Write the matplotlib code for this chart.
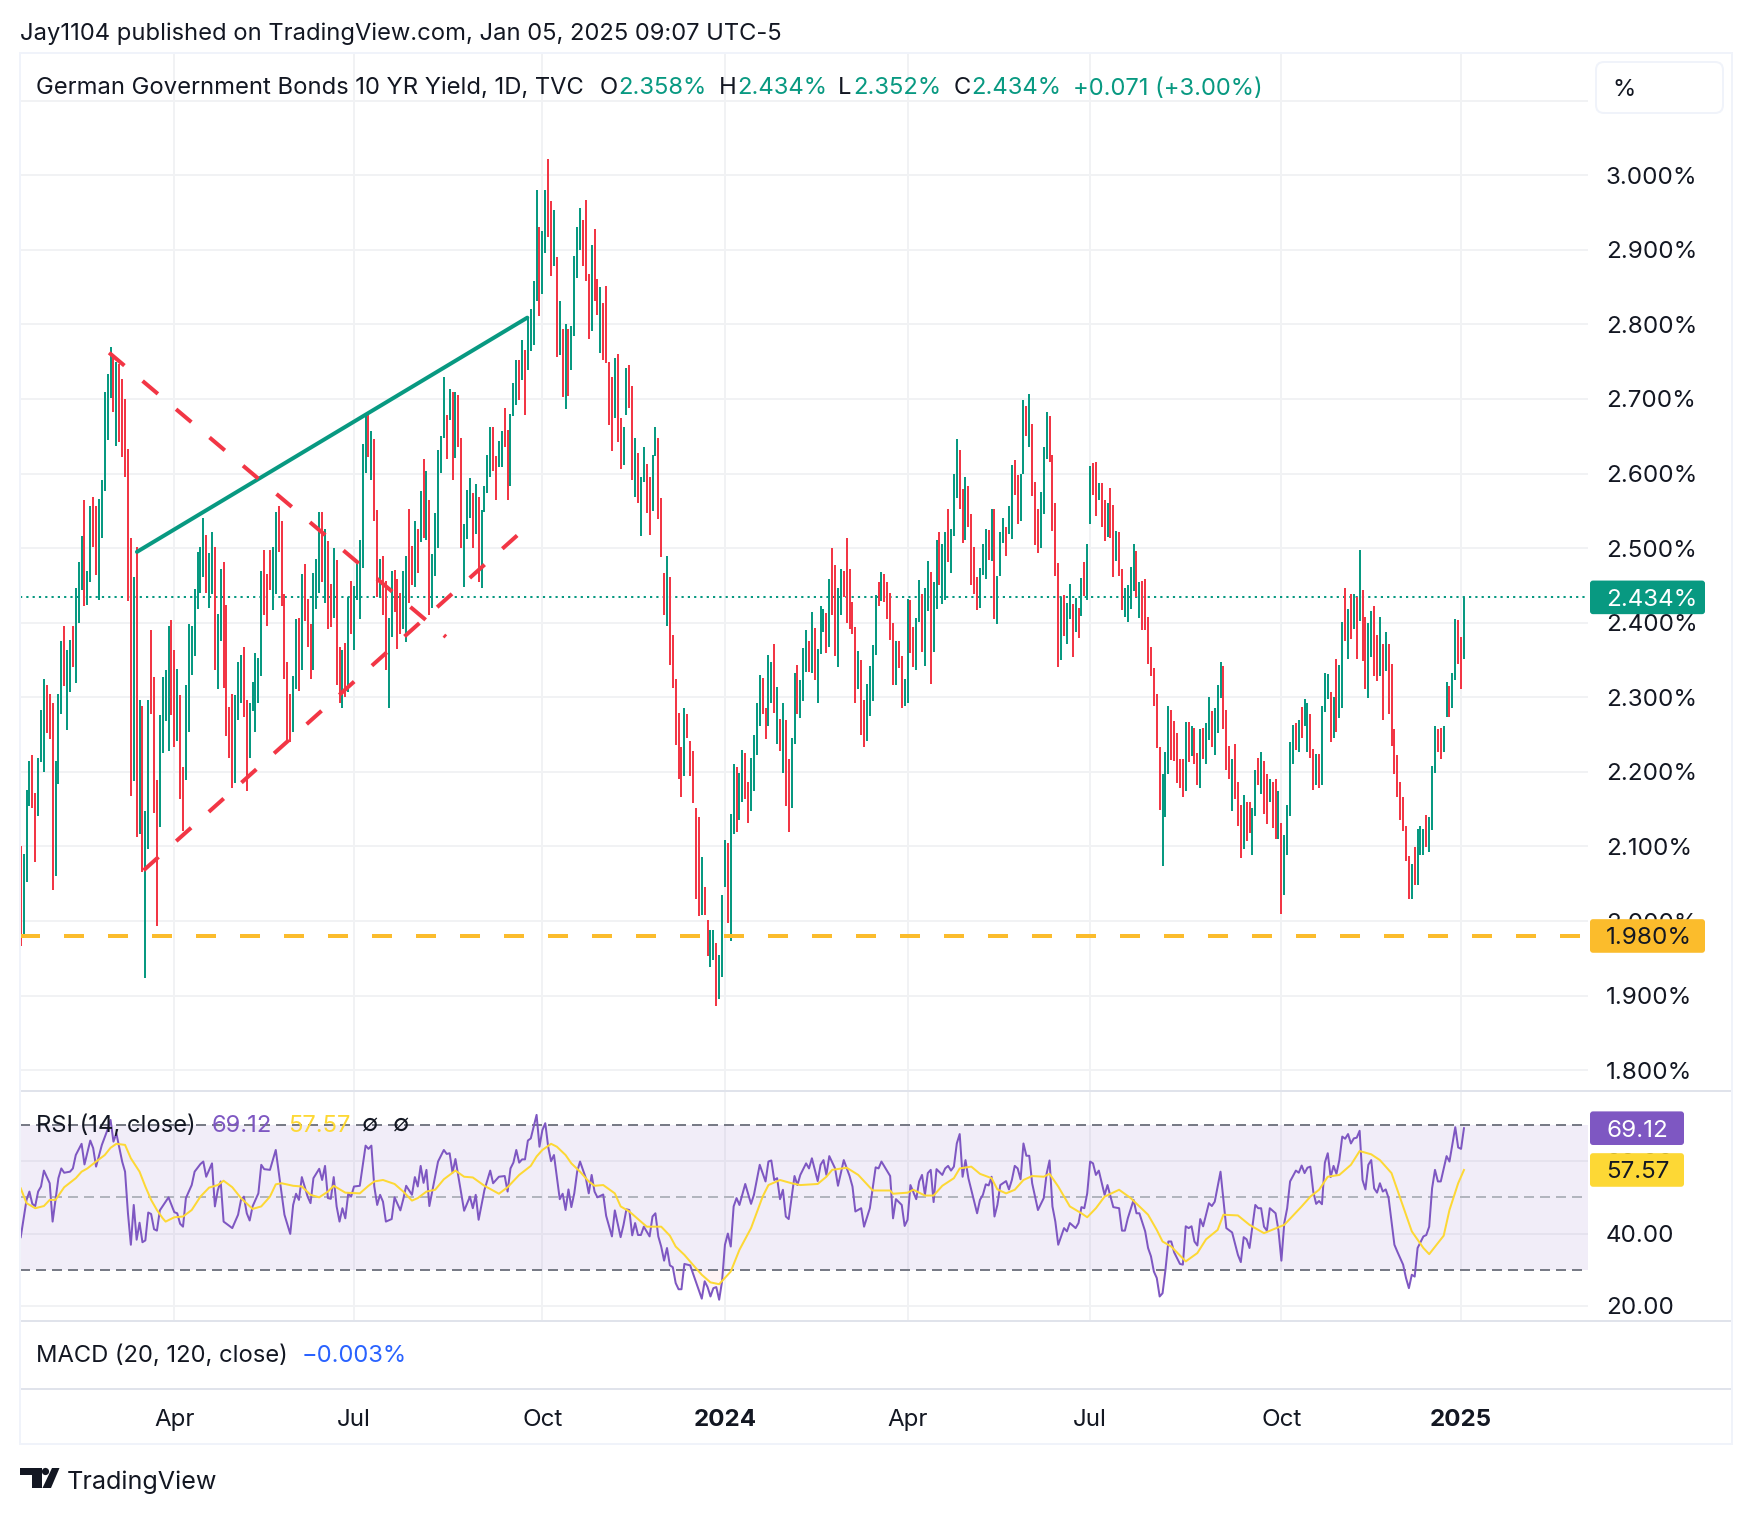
#!/usr/bin/env python

#-- importing libraries
import numpy as np
import matplotlib
matplotlib.use('Agg')
import matplotlib.pyplot as plt
from matplotlib.patches import FancyBboxPatch, Polygon, Circle

#-- daily range of the yield, one row per ten bars
bar_high = [
    2.101,2.090,2.176,2.215,2.222,2.172,2.218,2.283,2.324,2.316,
    2.304,2.292,2.215,2.305,2.375,2.395,2.363,2.377,2.395,2.446,
    2.482,2.516,2.564,2.470,2.557,2.569,2.556,2.566,2.591,2.709,
    2.734,2.769,2.759,2.750,2.747,2.727,2.700,2.633,2.514,2.461,
    2.502,2.296,2.289,2.147,2.296,2.390,2.327,2.189,2.276,2.327,
    2.336,2.395,2.403,2.364,2.338,2.303,2.207,2.316,2.398,2.395,
    2.445,2.495,2.502,2.541,2.517,2.494,2.521,2.501,2.412,2.472,
    2.481,2.424,2.287,2.305,2.303,2.348,2.357,2.368,2.296,2.292,
    2.320,2.359,2.353,2.470,2.498,2.465,2.497,2.501,2.548,2.556,
    2.536,2.438,2.347,2.305,2.328,2.405,2.406,2.465,2.479,2.432,
    2.398,2.466,2.486,2.548,2.548,2.526,2.509,2.452,2.500,2.484,
    2.367,2.364,2.373,2.434,2.456,2.449,2.479,2.511,2.640,2.678,
    2.678,2.657,2.646,2.551,2.485,2.489,2.456,2.406,2.469,2.471,
    2.459,2.440,2.469,2.490,2.553,2.503,2.536,2.526,2.576,2.619,
    2.604,2.564,2.492,2.547,2.631,2.650,2.729,2.679,2.713,2.709,
    2.710,2.705,2.647,2.533,2.578,2.594,2.574,2.586,2.569,2.551,
    2.583,2.625,2.663,2.663,2.623,2.643,2.657,2.688,2.658,2.680,
    2.721,2.752,2.752,2.779,2.765,2.810,2.820,2.858,2.980,2.930,
    2.925,2.980,3.022,2.965,2.953,2.891,2.832,2.794,2.800,2.794,
    2.798,2.892,2.930,2.956,2.940,2.967,2.868,2.907,2.928,2.861,
    2.850,2.828,2.852,2.750,2.730,2.755,2.760,2.675,2.663,2.741,
    2.746,2.717,2.647,2.627,2.596,2.635,2.613,2.596,2.625,2.662,
    2.648,2.567,2.467,2.489,2.461,2.383,2.324,2.279,2.234,2.285,
    2.277,2.242,2.228,2.151,2.140,2.086,2.045,2.002,1.988,1.988,
    1.971,1.955,2.035,2.109,2.104,2.143,2.210,2.207,2.198,2.230,
    2.225,2.187,2.218,2.249,2.293,2.330,2.326,2.285,2.357,2.348,
    2.371,2.314,2.271,2.293,2.269,2.217,2.246,2.332,2.343,2.323,
    2.366,2.390,2.375,2.414,2.393,2.365,2.422,2.418,2.413,2.459,
    2.500,2.477,2.447,2.472,2.469,2.513,2.472,2.428,2.394,2.362,
    2.350,2.296,2.318,2.342,2.370,2.437,2.455,2.468,2.465,2.455,
    2.440,2.400,2.375,2.375,2.355,2.324,2.432,2.430,2.394,2.406,
    2.457,2.439,2.447,2.483,2.468,2.455,2.511,2.522,2.506,2.522,
    2.553,2.526,2.599,2.646,2.631,2.579,2.595,2.583,2.546,2.502,
    2.461,2.473,2.506,2.526,2.524,2.552,2.552,2.463,2.521,2.541,
    2.529,2.556,2.611,2.618,2.598,2.600,2.698,2.690,2.706,2.666,
    2.588,2.553,2.575,2.635,2.682,2.677,2.625,2.560,2.480,2.434,
    2.437,2.426,2.452,2.425,2.433,2.420,2.460,2.482,2.506,2.610,
    2.614,2.616,2.587,2.587,2.565,2.561,2.580,2.558,2.523,2.521,
    2.472,2.447,2.451,2.475,2.506,2.496,2.455,2.456,2.458,2.407,
    2.368,2.339,2.304,2.234,2.197,2.226,2.289,2.283,2.268,2.252,
    2.217,2.217,2.267,2.267,2.262,2.259,2.225,2.257,2.259,2.265,
    2.300,2.281,2.285,2.316,2.348,2.342,2.283,2.235,2.217,2.238,
    2.186,2.156,2.169,2.160,2.160,2.151,2.202,2.218,2.226,2.215,
    2.197,2.191,2.186,2.190,2.175,2.131,2.115,2.156,2.240,2.263,
    2.265,2.270,2.287,2.298,2.293,2.278,2.231,2.224,2.224,2.289,
    2.333,2.331,2.307,2.301,2.351,2.343,2.401,2.446,2.419,2.438,
    2.439,2.434,2.497,2.444,2.407,2.399,2.416,2.423,2.383,2.407,
    2.372,2.388,2.371,2.344,2.257,2.222,2.187,2.166,2.128,2.087,
    2.077,2.099,2.124,2.128,2.124,2.142,2.139,2.208,2.262,2.258,
    2.259,2.261,2.321,2.315,2.332,2.405,2.403,2.381,2.434]

bar_low = [
    1.967,1.980,2.053,2.154,2.151,2.079,2.141,2.213,2.200,2.252,
    2.244,2.042,2.061,2.184,2.278,2.315,2.256,2.307,2.341,2.319,
    2.400,2.444,2.422,2.424,2.455,2.502,2.464,2.430,2.513,2.577,
    2.645,2.701,2.683,2.637,2.642,2.622,2.595,2.429,2.168,2.188,
    2.113,2.117,2.066,1.923,2.096,2.277,2.145,1.994,2.126,2.225,
    2.268,2.228,2.276,2.234,2.241,2.164,2.121,2.189,2.253,2.330,
    2.355,2.419,2.440,2.461,2.440,2.420,2.438,2.336,2.311,2.376,
    2.313,2.248,2.219,2.178,2.185,2.270,2.292,2.274,2.174,2.219,
    2.282,2.253,2.292,2.329,2.411,2.396,2.444,2.417,2.439,2.495,
    2.422,2.324,2.240,2.240,2.253,2.311,2.308,2.336,2.402,2.368,
    2.324,2.336,2.419,2.440,2.455,2.427,2.392,2.394,2.406,2.316,
    2.292,2.286,2.300,2.307,2.385,2.363,2.430,2.405,2.474,2.601,
    2.622,2.591,2.536,2.435,2.435,2.411,2.336,2.286,2.381,2.415,
    2.365,2.385,2.392,2.374,2.427,2.450,2.448,2.466,2.508,2.514,
    2.511,2.411,2.420,2.462,2.500,2.601,2.648,2.620,2.672,2.591,
    2.621,2.636,2.500,2.448,2.512,2.540,2.500,2.519,2.455,2.447,
    2.548,2.574,2.595,2.604,2.564,2.609,2.609,2.636,2.564,2.583,
    2.677,2.692,2.698,2.725,2.679,2.739,2.764,2.772,2.832,2.811,
    2.841,2.896,2.917,2.865,2.878,2.756,2.759,2.702,2.686,2.704,
    2.739,2.785,2.862,2.900,2.878,2.858,2.780,2.791,2.832,2.812,
    2.762,2.752,2.748,2.665,2.630,2.674,2.642,2.606,2.611,2.679,
    2.688,2.591,2.569,2.561,2.516,2.588,2.547,2.517,2.550,2.624,
    2.539,2.488,2.411,2.395,2.343,2.312,2.236,2.191,2.166,2.195,
    2.245,2.194,2.158,2.029,2.007,2.008,2.008,1.953,1.939,1.948,
    1.886,1.896,1.925,2.045,1.998,1.973,2.117,2.120,2.135,2.159,
    2.164,2.131,2.148,2.174,2.222,2.262,2.277,2.244,2.261,2.293,
    2.279,2.237,2.228,2.198,2.154,2.119,2.152,2.237,2.277,2.272,
    2.295,2.334,2.334,2.332,2.323,2.292,2.358,2.387,2.359,2.367,
    2.410,2.355,2.340,2.410,2.434,2.400,2.391,2.385,2.293,2.311,
    2.249,2.233,2.241,2.275,2.295,2.357,2.422,2.429,2.428,2.405,
    2.377,2.316,2.316,2.339,2.285,2.288,2.293,2.359,2.340,2.336,
    2.401,2.361,2.342,2.416,2.318,2.361,2.419,2.450,2.425,2.431,
    2.482,2.467,2.516,2.567,2.552,2.507,2.511,2.529,2.450,2.438,
    2.417,2.420,2.464,2.459,2.484,2.483,2.405,2.398,2.462,2.507,
    2.489,2.519,2.512,2.571,2.532,2.536,2.600,2.650,2.635,2.570,
    2.504,2.494,2.500,2.546,2.619,2.616,2.523,2.462,2.341,2.350,
    2.382,2.371,2.405,2.354,2.387,2.379,2.409,2.436,2.431,2.533,
    2.571,2.543,2.564,2.528,2.510,2.515,2.514,2.461,2.483,2.462,
    2.417,2.407,2.401,2.419,2.442,2.434,2.406,2.390,2.390,2.344,
    2.329,2.288,2.232,2.149,2.074,2.139,2.197,2.216,2.215,2.185,
    2.178,2.167,2.175,2.213,2.221,2.211,2.182,2.178,2.217,2.211,
    2.243,2.234,2.222,2.252,2.299,2.258,2.202,2.191,2.148,2.163,
    2.127,2.085,2.097,2.108,2.118,2.088,2.141,2.182,2.170,2.144,
    2.130,2.159,2.125,2.110,2.110,2.010,2.035,2.088,2.141,2.211,
    2.229,2.226,2.246,2.262,2.226,2.218,2.176,2.182,2.178,2.183,
    2.280,2.298,2.240,2.245,2.253,2.272,2.285,2.375,2.351,2.378,
    2.391,2.351,2.402,2.349,2.311,2.299,2.354,2.329,2.322,2.329,
    2.270,2.335,2.277,2.235,2.197,2.167,2.135,2.121,2.080,2.029,
    2.029,2.048,2.049,2.088,2.088,2.099,2.093,2.122,2.198,2.226,
    2.217,2.226,2.274,2.273,2.285,2.323,2.344,2.311,2.351]

#-- 1 for a rising bar, 0 for a falling bar
bar_up = [
    0,1,1,1,0,0,1,1,1,0, 0,0,1,1,1,0,1,1,0,1, 1,1,0,1,1,0,0,1,1,1,
    1,1,0,1,0,0,0,0,0,1, 0,1,0,1,1,0,0,0,1,1, 1,1,0,0,1,0,0,1,1,1,
    1,1,1,1,0,1,1,0,1,1, 0,0,0,0,1,1,1,0,0,1, 1,1,1,1,0,0,0,1,1,0,
    0,0,0,0,1,1,0,1,0,0, 0,1,1,1,0,1,0,0,1,0, 0,1,0,1,0,1,1,1,1,1,
    0,1,0,0,1,0,0,1,1,0, 0,0,1,1,0,0,1,0,1,0, 1,0,1,1,1,1,1,0,1,0,
    1,0,0,1,1,1,0,1,0,1, 1,1,1,0,0,1,1,0,0,1, 1,1,0,1,0,1,1,1,1,0,
    1,1,0,0,1,0,1,0,1,0, 1,1,1,1,0,0,0,1,0,0, 1,0,0,0,0,1,0,0,1,1,
    0,0,1,0,1,1,0,0,1,1, 0,0,0,1,0,0,0,0,0,1, 0,0,0,0,0,1,0,0,1,1,
    0,1,1,1,0,1,1,0,1,1, 0,0,1,1,1,1,0,0,1,1, 0,1,0,1,0,0,1,1,0,1,
    1,1,0,1,0,1,1,1,0,1, 0,0,1,1,0,0,0,0,0,1, 0,0,1,1,1,1,0,1,0,0,
    0,0,1,0,0,1,1,0,0,1, 1,0,1,1,0,1,1,0,1,1, 0,1,1,1,0,0,1,0,0,0,
    0,1,1,1,0,1,0,1,1,1, 0,1,1,0,0,1,1,0,1,0, 0,0,1,1,1,0,0,0,0,1,
    0,1,1,0,1,0,1,0,1,1, 0,0,1,0,0,1,0,0,1,0, 0,1,1,1,1,0,1,0,0,0,
    0,0,0,0,1,1,1,0,0,0, 0,0,1,0,1,0,0,1,0,1, 1,0,1,1,1,0,0,0,1,0,
    0,0,1,0,0,1,1,0,1,0, 0,1,0,0,1,0,1,1,1,1, 0,1,0,1,1,0,0,1,0,1,
    1,1,0,1,0,1,1,0,1,0, 1,0,1,0,0,1,1,0,0,1, 0,1,0,0,0,0,0,0,0,0,
    1,0,1,1,1,0,1,1,1,0, 0,1,1,0,1,1,0,0,1]

#-- RSI as (bar, value)
rsi_points = [
    (0,39),(2,49.3),(3,51.6),(4,48.2),(5,47.6),(6,51.6),(7,53),(8,57.4),(10,53.9),(11,43.3),
    (13,55.3),(14,58),(15,56.8),(17,57.1),(18,58),(19,61.7),(21,64.8),(22,59.1),(24,65.7),(25,63.6),
    (26,58.5),(28,64.5),(30,68.8),(31,71.4),(32,65.4),(33,67.7),(35,59.9),(36,57.1),(37,45.6),(38,36.9),
    (39,47.9),(40,38.3),(41,43),(42,37.6),(43,38.1),(44,45.8),(45,45.4),(46,41.2),(47,40.8),(48,46.4),
    (51,50),(53,45.9),(54,45.6),(55,42.7),(56,41.9),(57,49.8),(59,53.4),(60,57.1),(62,59.2),(63,59.9),
    (64,55.7),(66,59.4),(67,47.5),(68,52),(69,54.4),(70,43.3),(73,41.5),(75,45.2),(76,49.3),(77,50.2),
    (78,45.6),(79,43.6),(80,47.5),(82,51.1),(83,59),(84,57.8),(86,57.6),(88,63.1),(91,45.2),(93,39.9),
    (94,47.9),(95,51),(96,49.3),(97,55.6),(99,50.2),(100,48.4),(101,55.3),(103,57.9),(104,54.8),(105,58.7),
    (106,49.8),(107,49.6),(108,55.6),(109,47.5),(110,43.3),(111,47),(112,44.2),(113,51),(114,50.2),(115,53),
    (117,53.2),(119,64.3),(120,63.4),(121,64.3),(122,53),(123,47.9),(124,50.7),(125,48.8),(126,43.3),(128,44),
    (129,50),(131,46.4),(132,49.5),(133,53.2),(135,50.7),(136,55.6),(137,53),(138,58.7),(139,54),(140,57.6),
    (141,47.6),(144,59.9),(146,63.1),(147,62),(148,62.2),(149,56.8),(150,60.6),(153,46.3),(155,50.2),(156,47),
    (157,50.7),(158,43.8),(160,52),(162,57.4),(163,53.9),(165,55.7),(167,55.9),(168,51.6),(169,58),(170,59.6),
    (171,63.1),(172,59.6),(173,60.5),(174,60.5),(175,65.7),(176,66.3),(178,72.8),(179,64),(180,68.6),(181,70.5),
    (182,64),(183,60),(184,61.7),(186,49.5),(187,51),(188,46.5),(189,52.2),(190,47.3),(191,51.1),(192,57.1),
    (193,59.9),(195,55.3),(196,51.1),(197,56.2),(198,51.6),(199,50),(201,50.8),(202,44.9),(204,39.2),(205,46.4),
    (207,39),(208,42.4),(209,46.7),(210,46.5),(211,39.5),(212,42.9),(213,39.6),(214,39.6),(215,41.9),(217,39.2),
    (218,44.7),(219,45.6),(220,39.2),(221,36.4),(222,32.5),(223,36),(224,31.2),(225,30.7),(226,26.3),(227,24.6),
    (228,24.6),(229,31.6),(231,31.2),(235,22),(236,26.8),(237,25.2),(238,22.6),(239,24.9),(240,25.2),(241,21.7),
    (242,26.8),(243,36.9),(244,40),(245,36.4),(246,47.5),(247,49.8),(248,47.9),(250,53.7),(252,48.2),(253,50.7),
    (254,54.8),(255,59),(257,54.4),(258,59.9),(259,60.2),(260,54.8),(261,55.3),(262,49.5),(263,52.1),(264,44.7),
    (265,44),(267,55.9),(268,53.4),(269,56.2),(271,59.4),(272,58),(273,60.8),(275,54.5),(276,59),(277,60.3),
    (278,56.2),(279,61.4),(281,58),(282,53.2),(284,60.3),(286,55.9),(287,53),(288,46.1),(290,47),(291,41.9),
    (293,47),(295,58.3),(296,58),(297,59.9),(300,55.9),(301,44.2),(302,49.5),(304,47.9),(305,42.1),(306,43.8),
    (307,53.4),(309,49.5),(310,54.4),(311,56.2),(312,50.7),(313,56.7),(314,57.6),(315,48.7),(316,57.8),(318,56.2),
    (319,58),(320,58.7),(321,57.4),(322,58.5),(323,64.9),(324,67.5),(325,55.7),(326,60.3),(327,55.3),(330,45.6),
    (331,49.3),(332,50.7),(333,53.6),(334,53.3),(335,55.7),(336,44.7),(337,47.9),(338,53.4),(340,54.5),(341,52.2),
    (342,54.8),(343,58.7),(344,58),(345,55),(346,64.9),(347,61.5),(348,61.5),(349,53.9),(351,46.5),(353,49.8),
    (354,56.6),(355,60.2),(356,47.5),(357,43.3),(358,36.9),(360,41.5),(361,40.6),(362,42.9),(364,41.5),(365,42.9),
    (366,47.3),(367,47),(368,51.1),(369,59.9),(370,59.4),(371,56.2),(372,57.4),(374,50.7),(375,53.4),(377,47.3),
    (379,47),(380,40.8),(381,40.8),(382,44.2),(384,49.3),(385,45.6),(386,45.6),(388,40.6),(389,36),(390,33.7),
    (391,29.5),(392,27.7),(393,22.6),(394,23.5),(395,30),(396,37.8),(397,37.8),(398,34.8),(400,31.6),(401,31.4),
    (402,42),(403,41.5),(404,42),(405,37.8),(406,36.7),(407,44),(408,42),(410,48.4),(411,47.6),(412,48.8),
    (414,57.1),(416,41.5),(418,40.3),(420,34.1),(421,32.1),(422,39),(423,38.4),(424,36),(426,47.9),(427,47),
    (428,47),(429,41.9),(430,40.8),(431,47),(433,45.6),(434,40.8),(435,32.5),(436,42.9),(437,47),(438,54.4),
    (440,57.4),(441,56.8),(442,58.8),(443,56.7),(444,58.2),(445,58.5),(446,51.6),(447,48.2),(448,49),(449,48.1),
    (450,59.6),(451,62.2),(452,55.6),(453,58.7),(454,56.5),(455,60.3),(456,66.8),(457,66.2),(458,67.5),(459,64.9),
    (460,66.3),(461,66.5),(462,68.4),(463,54.8),(464,52.2),(465,59),(466,60.3),(467,52.5),(468,51.3),(469,53.9),
    (470,51.6),(471,52.2),(472,49.8),(474,36.9),(475,35),(477,31.4),(478,27.7),(479,24.9),(480,28.6),(481,28.1),
    (482,36),(484,39.2),(485,39.6),(486,41.9),(487,52.5),(488,57.6),(489,54.4),(490,54.4),(492,61.4),(493,59.9),
    (495,69.4),(496,63.8),(497,63.4),(498,69.12)]

#-- RSI moving average as (bar, value)
rsi_ma_points = [
    (0,52.5),(2,48.4),(5,47),(8,47.6),(10,49.3),(12,49.3),(15,52.8),(19,55.3),(21,57.1),(23,58),
    (26,59.9),(29,61.7),(31,63.7),(33,64.8),(36,64.5),(38,60.8),(41,57.1),(43,53),(45,49.3),(47,46.5),
    (49,44.2),(50,43.3),(53,44.5),(56,44.7),(59,46.5),(62,50.2),(65,52.7),(68,53.4),(70,54.6),(73,52.8),
    (76,49.8),(80,46.8),(83,47.5),(86,50.2),(88,53.6),(90,53.9),(94,53.2),(97,53),(100,50.7),(103,50),
    (106,51.6),(108,53.2),(112,51.3),(117,51.1),(120,53.2),(122,54.4),(125,54.8),(129,53.7),(132,51.6),(135,49.1),
    (137,49.8),(140,51.6),(143,52.1),(146,55),(150,57.4),(153,55.7),(156,55.5),(160,53.2),(165,51),(168,52.8),
    (172,56.2),(176,58.7),(178,61.3),(180,63.1),(183,64.8),(185,64),(188,61.7),(190,59.4),(193,57.1),(196,54.4),
    (198,53.2),(201,53.4),(205,51.1),(207,47.5),(210,46.1),(213,44),(216,41.9),(221,41.9),(224,39.4),(226,36.4),
    (229,34.1),(233,30.4),(235,28.6),(238,26.5),(241,26),(245,29.5),(248,35.5),(252,41.5),(256,50.2),(258,53.4),
    (262,54.8),(266,53.9),(269,53.4),(275,53.7),(278,55.7),(280,57.6),(285,58.2),(289,56.2),(294,51.9),(300,51.9),
    (301,51),(306,51.3),(308,52.1),(312,50.5),(315,50.5),(318,53.2),(322,55.3),(324,58),(328,58.5),(331,56.5),
    (335,55.3),(337,52.2),(340,51.1),(343,52.1),(346,54.8),(349,55.9),(353,55.7),(355,56.5),(358,53),(362,47.5),
    (366,45.6),(368,44.5),(371,47),(374,50.2),(379,52.1),(383,49.8),(389,45.2),(392,41),(394,37.8),(397,36.4),
    (402,32.3),(406,34.6),(409,38.4),(413,41),(415,45.2),(420,45),(424,42.4),(429,40.1),(436,42.4),(442,47.5),
    (445,50.2),(448,52.1),(451,55.7),(455,56.2),(459,59),(462,62.8),(466,61.9),(469,60.3),(473,56.7),(477,47.5),
    (480,40.6),(484,36),(486,34.3),(491,39.4),(493,46.5),(496,53.9),(498,57.57)]

#-- bars where a new period starts on the time axis
time_bars = [53, 115, 180, 243, 306, 369, 435, 497]
time_labels = ['Apr', 'Jul', 'Oct', '2024', 'Apr', 'Jul', 'Oct', '2025']

price_ticks = [1.8, 1.9, 2.0, 2.1, 2.2, 2.3, 2.4, 2.5, 2.6, 2.7, 2.8, 2.9, 3.0, 3.1]
rsi_ticks = [20, 40, 60]

#-- drawn lines: (bar, yield) at both ends
trend_bars = [40.1, 174.8]
trend_vals = [2.495, 2.809]
fall_bars = [30.5, 146.7]
fall_vals = [2.762, 2.381]
rise_bars = [42.4, 171.3]
rise_vals = [2.068, 2.517]

last_close = 2.434
support = 1.980
rsi_last = 69.12
rsi_ma_last = 57.57

GREEN = '#089981'
RED = '#F23645'
AMBER = '#FBBC2C'
PURPLE = '#7E57C2'
YELLOW = '#FDD835'
INK = '#131722'
GRID = '#F1F2F4'
BORDER = '#E0E3EB'
FRAME = '#F0F3FA'
FONT = ['Inter', 'DejaVu Sans']

W, H = 1752, 1514
px = 0.72  # one pixel in points at dpi 100
FS = 17.1
TICK_FS = 17.4

plt.rcParams['font.family'] = FONT
plt.rcParams['lines.scale_dashes'] = False
plt.rcParams['axes.unicode_minus'] = False

fig = plt.figure(figsize=(W / 100, H / 100), dpi=100, facecolor='white')


def pane(top, bottom, zorder=1):
    a = fig.add_axes([20 / W, 1 - bottom / H, 1568 / W, (bottom - top) / H], zorder=zorder)
    for s in a.spines.values():
        s.set_visible(False)
    a.set_xlim(-0.25, 540.8)
    a.set_axisbelow(True)
    return a


x = np.arange(len(bar_high))
colors = [GREEN if u else RED for u in bar_up]

#-- price pane
ax = pane(54, 1090)
ax.set_ylim(1.7735, 3.1625)
ax.vlines(x, bar_low, bar_high, colors=colors, linewidth=2 * px, capstyle='butt', zorder=3)
ax.plot(trend_bars, trend_vals, color=GREEN, lw=4 * px, solid_capstyle='round', zorder=4)
dash = (0, (20 * px, 23.8 * px))
ax.plot(fall_bars, fall_vals, color=RED, lw=4 * px, ls=dash, dash_capstyle='butt', zorder=4)
ax.plot(rise_bars, rise_vals, color=RED, lw=4 * px, ls=dash, dash_capstyle='butt', zorder=4)
ax.axhline(last_close, color=GREEN, lw=2 * px, ls=(0, (2.2 * px, 4.1 * px)), zorder=2)
ax.axhline(support, color=AMBER, lw=4 * px, ls=(0, (20 * px, 24 * px)), dash_capstyle='butt', zorder=4)
ax.set_yticks(price_ticks)
ax.set_yticklabels(['%.3f%%' % t if t < 3.05 else '' for t in price_ticks])
ax.yaxis.tick_right()
ax.tick_params(axis='y', length=0, pad=18 * px, labelsize=TICK_FS, labelcolor=INK)
ax.set_xticks(time_bars)
ax.tick_params(axis='x', length=0, labelbottom=False)
ax.grid(True, color=GRID, lw=2 * px)

#-- RSI pane
ax2 = pane(1091, 1320)
ax2.set_ylim(16.1, 79.4)
r_x, r_y = np.array(rsi_points).T
m_x, m_y = np.array(rsi_ma_points).T
ax2.axhspan(30, 70, color=PURPLE, alpha=0.1, lw=0, zorder=1)
ax2.fill_between(r_x, r_y, 30, where=r_y < 30, interpolate=True, color=RED, alpha=0.06, lw=0, zorder=1)
ax2.axhline(70, color='#787B86', lw=2 * px, ls=(0, (10 * px, 6 * px)), zorder=2)
ax2.axhline(50, color='#B2B5BE', lw=2 * px, ls=(0, (10 * px, 6 * px)), zorder=2)
ax2.axhline(30, color='#787B86', lw=2 * px, ls=(0, (10 * px, 6 * px)), zorder=2)
ax2.plot(r_x, r_y, color=PURPLE, lw=2 * px, zorder=3)
ax2.plot(m_x, m_y, color=YELLOW, lw=2 * px, zorder=4)
ax2.set_yticks(rsi_ticks)
ax2.set_yticklabels(['%.2f' % t for t in rsi_ticks])
ax2.yaxis.tick_right()
ax2.tick_params(axis='y', length=0, pad=18 * px, labelsize=TICK_FS, labelcolor=INK)
ax2.set_xticks(time_bars)
ax2.tick_params(axis='x', length=0, labelbottom=False)
ax2.grid(True, color=GRID, lw=2 * px)

#-- MACD pane carries the time axis
ax3 = pane(1321, 1389)
ax3.set_yticks([])
ax3.set_xticks(time_bars)
ax3.set_xticklabels(time_labels)
ax3.tick_params(axis='x', length=0, pad=20 * px, labelsize=TICK_FS, labelcolor=INK)
for lab in ax3.get_xticklabels():
    if lab.get_text().isdigit():
        lab.set_fontweight('bold')

#-- overlay in pixel coordinates for the frame and the labels
over = fig.add_axes([0, 0, 1, 1], zorder=10)
over.set_xlim(0, W)
over.set_ylim(H, 0)
over.axis('off')


def yof(a, v):
    return H - a.transData.transform((0, v))[1]


def badge(y, x0, w, fc, tc, s):
    over.add_patch(FancyBboxPatch((x0, y - 16.8), w, 33.6, boxstyle='round,pad=0,rounding_size=3',
                                  fc=fc, ec='none'))
    over.text(1606, y, s, color=tc, fontsize=TICK_FS, va='center_baseline', ha='left')


#-- frame
for yy, c in [(1090.5, BORDER), (1320.5, BORDER), (1389, BORDER), (53, FRAME), (1443.5, FRAME)]:
    over.plot([20, 1732], [yy, yy], color=c, lw=2 * px)
for xx in [20, 1732]:
    over.plot([xx, xx], [53, 1443.5], color=FRAME, lw=2 * px)

badge(yof(ax, last_close), 1590, 115, GREEN, 'white', '%.3f%%' % last_close)
badge(yof(ax, support), 1590, 115, AMBER, INK, '%.3f%%' % support)
badge(yof(ax2, rsi_last), 1590, 94, PURPLE, 'white', '%.2f' % rsi_last)
badge(yof(ax2, rsi_ma_last), 1590, 94, YELLOW, INK, '%.2f' % rsi_ma_last)

#-- percent button
over.add_patch(FancyBboxPatch((1596, 62), 127, 51, boxstyle='round,pad=0,rounding_size=8',
                              fc='white', ec=FRAME, lw=2 * px))
over.text(1612, 87, '%', color=INK, fontsize=FS, va='center_baseline')

#-- header and legends
over.text(20, 31, 'Jay1104 published on TradingView.com, Jan 05, 2025 09:07 UTC-5',
          color=INK, fontsize=FS, va='center_baseline')
over.text(36, 86, 'German Government Bonds 10 YR Yield, 1D, TVC', color=INK, fontsize=FS, va='center_baseline')
for xt, s, c in [(600, 'O', INK), (618, '2.358%', GREEN), (719, 'H', INK), (737, '2.434%', GREEN),
                 (838, 'L', INK), (853, '2.352%', GREEN), (954, 'C', INK), (971, '2.434%', GREEN),
                 (1073, '+0.071 (+3.00%)', GREEN)]:
    over.text(xt, 86, s, color=c, fontsize=FS, va='center_baseline')
for xt, s, c in [(36.5, 'RSI (14, close)', INK), (212, '69.12', PURPLE), (288, '57.57', YELLOW),
                 (362, '\u2205', INK), (393, '\u2205', INK)]:
    over.text(xt, 1123, s, color=c, fontsize=FS, va='center_baseline')
over.text(36.5, 1353, 'MACD (20, 120, close)', color=INK, fontsize=FS, va='center_baseline')
over.text(301.5, 1353, '\u22120.003%', color='#2962FF', fontsize=FS, va='center_baseline')

#-- logo
over.add_patch(Polygon([(20, 1468), (41.5, 1468), (41.5, 1488), (31.5, 1488), (31.5, 1475), (20, 1475)],
                       fc=INK, ec='none'))
over.add_patch(Circle((45.5, 1471.5), 3.6, fc=INK, ec='none'))
over.add_patch(Polygon([(52, 1468), (59.5, 1468), (51, 1488), (42.5, 1488)], fc=INK, ec='none'))
over.text(67, 1480, 'TradingView', color=INK, fontsize=18.1, va='center_baseline')

fig.savefig('out.png', dpi=100, facecolor='white')
